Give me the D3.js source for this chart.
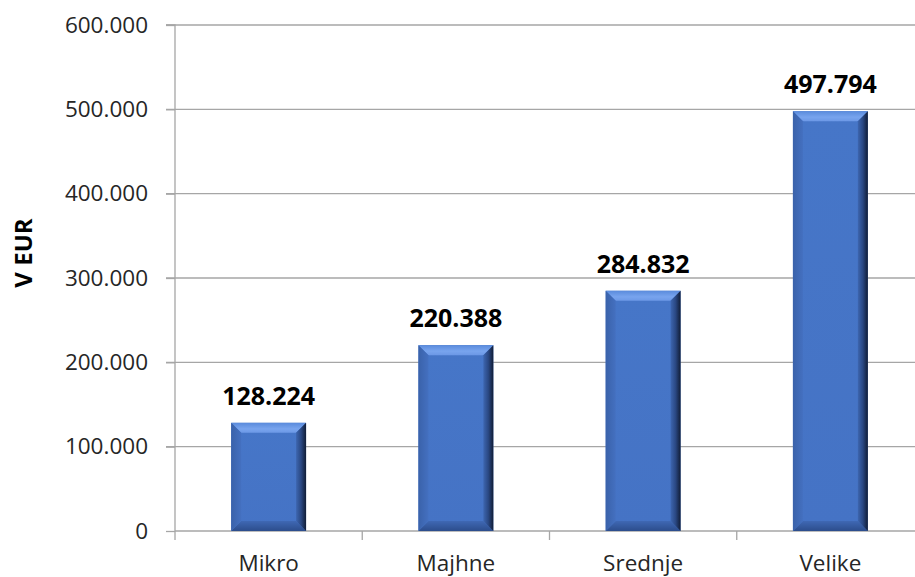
<!DOCTYPE html>
<html><head><meta charset="utf-8">
<script src="https://cdn.jsdelivr.net/npm/d3@7"></script>
<style>html,body{margin:0;padding:0;background:#fff;}svg{display:block;}</style>
</head><body>
<div id="chart"></div>
<script>
const categories = ["Mikro", "Majhne", "Srednje", "Velike"];
const values = [128224, 220388, 284832, 497794];
const valueLabels = ["128.224", "220.388", "284.832", "497.794"];
const yTicks = [0, 100000, 200000, 300000, 400000, 500000, 600000];
const yTickLabels = ["0", "100.000", "200.000", "300.000", "400.000", "500.000", "600.000"];
const yTitle = "V EUR";

(function () {
const W = 915, H = 577;
const pLeft = 175, pRight = 924, pTop = 25, pBottom = 531;
const font = "'Open Sans', 'Noto Sans', sans-serif";

const svg = d3.select("#chart").append("svg").attr("width", W).attr("height", H);
const defs = svg.append("defs");

const x = d3.scaleBand().domain(categories).range([pLeft, pRight]).paddingInner(0.6).paddingOuter(0.3);
const y = d3.scaleLinear().domain([0, 600000]).range([pBottom, pTop]);

function lg(id, stops, x1, y1, x2, y2) {
  const g = defs.append("linearGradient").attr("id", id)
    .attr("x1", x1).attr("y1", y1).attr("x2", x2).attr("y2", y2);
  stops.forEach(s => g.append("stop").attr("offset", s[0]).attr("stop-color", s[1]));
}
lg("gTop", [[0, "#5a8bdc"], [0.6, "#78a4ee"], [1, "#6c98e6"]], 0, 0, 0, 1);
lg("gRight", [[0, "#3d66b0"], [0.5, "#2a4883"], [1, "#111d36"]], 0, 0, 1, 0);
lg("gBottom", [[0, "#3f68b4"], [1, "#2c4d8c"]], 0, 0, 0, 1);
lg("gLeft", [[0, "#3a62aa"], [1, "#4470c0"]], 0, 0, 1, 0);
lg("gFace", [[0, "#4676c8"], [1, "#4573c5"]], 0, 0, 0, 1);

// gridlines
const grid = svg.append("g");
grid.selectAll("line").data(yTicks.slice(1)).join("line")
  .attr("x1", pLeft - 9).attr("x2", W).attr("y1", d => y(d)).attr("y2", d => y(d))
  .attr("stroke", "#a6a6a6").attr("stroke-width", 1.3);

// y axis
const yAxis = d3.axisLeft(y).tickValues(yTicks).tickSize(9).tickPadding(18)
  .tickFormat((d, i) => yTickLabels[i]);
const ya = svg.append("g").attr("transform", `translate(${pLeft},0)`).call(yAxis);
ya.select(".domain").attr("stroke", "#a6a6a6").attr("stroke-width", 1.3).attr("d", `M-9,${pTop}H0V${pBottom}`);
ya.selectAll(".tick line").attr("stroke", "#a6a6a6").attr("stroke-width", 1.3);
ya.selectAll(".tick text").attr("font-family", font).attr("font-size", 22.5).attr("fill", "#262626");

// x axis
const xAxis = d3.axisBottom(x).tickSize(0).tickPadding(24);
const xa = svg.append("g").attr("transform", `translate(0,${pBottom})`).call(xAxis);
xa.select(".domain").attr("stroke", "#a6a6a6").attr("stroke-width", 1.3).attr("d", `M${pLeft},0H${pRight}`);
xa.selectAll(".tick text").attr("font-family", font).attr("font-size", 22.5).attr("fill", "#262626").attr("dy", "0.71em");
const step = x.step();
const bounds = d3.range(categories.length + 1).map(i => pLeft + i * step);
xa.selectAll("line.bt").data(bounds).join("line").attr("class", "bt")
  .attr("x1", d => d).attr("x2", d => d).attr("y1", 0).attr("y2", 9)
  .attr("stroke", "#a6a6a6").attr("stroke-width", 1.3);

// bars
const b = 10;
const bars = svg.append("g").selectAll("g").data(categories).join("g");
bars.each(function(c, i) {
  const g = d3.select(this);
  const x0 = x(c), x1 = x(c) + x.bandwidth();
  const y0 = y(values[i]), y1 = y(0);
  const pts = a => a.map(p => p.join(",")).join(" ");
  g.append("rect").attr("x", x0).attr("y", y0).attr("width", x1 - x0).attr("height", y1 - y0).attr("fill", "url(#gFace)");
  g.append("polygon").attr("points", pts([[x0, y0], [x1, y0], [x1 - b, y0 + b], [x0 + b, y0 + b]])).attr("fill", "url(#gTop)");
  g.append("polygon").attr("points", pts([[x0, y1], [x1, y1], [x1 - b, y1 - b], [x0 + b, y1 - b]])).attr("fill", "url(#gBottom)");
  g.append("polygon").attr("points", pts([[x0, y0], [x0 + b, y0 + b], [x0 + b, y1 - b], [x0, y1]])).attr("fill", "url(#gLeft)");
  g.append("polygon").attr("points", pts([[x1, y0], [x1 - b, y0 + b], [x1 - b, y1 - b], [x1, y1]])).attr("fill", "url(#gRight)");
  g.append("text").attr("x", (x0 + x1) / 2).attr("y", y0 - 18)
    .attr("text-anchor", "middle").attr("font-family", font).attr("font-weight", "bold")
    .attr("font-size", 25).attr("fill", "#000").text(valueLabels[i]);
});

// y title
svg.append("text").attr("transform", `translate(32,253) rotate(-90)`)
  .attr("text-anchor", "middle").attr("font-family", font).attr("font-weight", "bold")
  .attr("font-size", 24).attr("fill", "#000").text(yTitle);
})();
</script>
</body></html>
